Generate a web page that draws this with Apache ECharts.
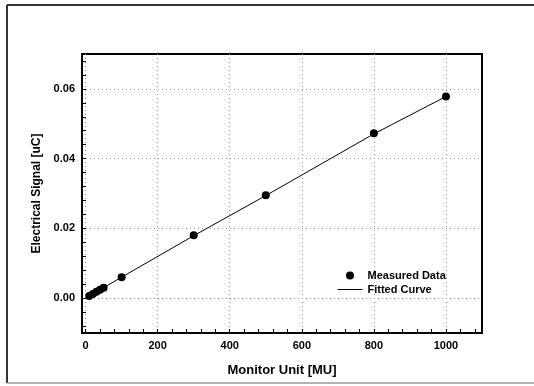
<!DOCTYPE html>
<html>
<head>
<meta charset="utf-8">
<script src="https://cdn.jsdelivr.net/npm/echarts@6/dist/echarts.min.js"></script>
<style>
    html, body { margin: 0; padding: 0; background: #fff; }
    #chart { width: 534px; height: 386px; }
</style>
</head>
<body>
<div id="chart"></div>
<script>
// measured points
const measuredX = [10, 20, 30, 40, 50, 100, 300, 500, 800, 1000];
const measuredY = [0.0006, 0.0012, 0.0018, 0.0024, 0.0030, 0.0060, 0.0180, 0.0295, 0.0473, 0.0578];

// fitted curve, same reading
const fittedX = [10, 100, 300, 500, 800, 1000];
const fittedY = [0.0006, 0.0060, 0.0179, 0.0294, 0.0471, 0.0578];

// axis labels
const xTickLabels = [0, 200, 400, 600, 800, 1000];
const yTickLabels = [0, 0.02, 0.04, 0.06];

document.addEventListener('DOMContentLoaded', function() {
    initChart();
});

function initChart() {
    const el = document.getElementById('chart');
    echarts.dispose(el);
    const chart = echarts.init(el);

    const font = 'Liberation Sans, Arial, sans-serif';

    // small inside ticks: every 40 MU and every 0.004 uC
    const xTicks = [];
    for (let i = 0; i <= 27; i++) xTicks.push(i * 40);
    const yTicks = [];
    for (let i = -2; i <= 17; i++) yTicks.push(Math.round(i * 4) / 1000);

    const gridLine = {
        show: true,
        showMinLine: false,
        showMaxLine: false,
        lineStyle: { color: '#999', type: [1, 3], width: 1 }
    };

    const option = {
        animation: false,
        backgroundColor: '#fff',
        grid: {
            left: 82,
            right: 52,
            top: 54,
            bottom: 53,
            show: true,
            borderColor: '#000',
            borderWidth: 2
        },
        graphic: [
            // outer frame (right edge runs off the picture)
            { type: 'line', shape: { x1: 7, y1: 5, x2: 534, y2: 5 }, style: { stroke: '#333', lineWidth: 2 } },
            { type: 'line', shape: { x1: 7, y1: 5, x2: 7, y2: 383 }, style: { stroke: '#333', lineWidth: 2 } },
            { type: 'line', shape: { x1: 7, y1: 383, x2: 534, y2: 383 }, style: { stroke: '#999', lineWidth: 1.5 } }
        ],
        legend: {
            orient: 'vertical',
            left: 332,
            top: 265,
            itemWidth: 25,
            itemHeight: 8,
            itemGap: 3,
            textStyle: { fontFamily: font, fontSize: 11, fontWeight: 'bold', color: '#000' },
            data: [
                { name: 'Measured Data', icon: 'circle', itemStyle: { color: '#000', opacity: 1 } },
                { name: 'Fitted Curve', icon: 'line', itemStyle: { color: '#000', borderColor: '#000', borderWidth: 1 } }
            ]
        },
        xAxis: [
            {
                // only carries the dotted grid
                type: 'value',
                position: 'top',
                min: -10,
                max: 1100,
                axisLine: { show: false },
                axisTick: { show: false },
                axisLabel: { show: false },
                splitLine: gridLine
            },
            {
                type: 'value',
                position: 'bottom',
                min: -10,
                max: 1100,
                name: 'Monitor Unit [MU]',
                nameLocation: 'middle',
                nameGap: 31,
                nameTextStyle: { fontFamily: font, fontSize: 13, fontWeight: 'bold', color: '#000' },
                axisLine: { show: true, onZero: false, lineStyle: { color: '#000', width: 2 } },
                axisTick: { show: true, inside: true, length: 4, customValues: xTicks, lineStyle: { color: '#000' } },
                axisLabel: {
                    customValues: xTickLabels,
                    margin: 7,
                    fontFamily: font,
                    fontSize: 11,
                    fontWeight: 'bold',
                    color: '#000',
                    formatter: function(v) { return String(v); }
                },
                splitLine: { show: false }
            }
        ],
        yAxis: [
            {
                type: 'value',
                position: 'right',
                min: -0.01,
                max: 0.07,
                axisLine: { show: false },
                axisTick: { show: false },
                axisLabel: { show: false },
                splitLine: gridLine
            },
            {
                type: 'value',
                position: 'left',
                min: -0.01,
                max: 0.07,
                name: 'Electrical Signal [uC]',
                nameLocation: 'middle',
                nameGap: 38,
                nameTextStyle: { fontFamily: font, fontSize: 12, fontWeight: 'bold', color: '#000' },
                axisLine: { show: true, onZero: false, lineStyle: { color: '#000', width: 2 } },
                axisTick: { show: true, inside: true, length: 4, customValues: yTicks, lineStyle: { color: '#000' } },
                axisLabel: {
                    customValues: yTickLabels,
                    margin: 7,
                    fontFamily: font,
                    fontSize: 11,
                    fontWeight: 'bold',
                    color: '#000',
                    formatter: function(v) { return v.toFixed(2); }
                },
                splitLine: { show: false }
            }
        ],
        series: [
            {
                name: 'Measured Data',
                type: 'scatter',
                xAxisIndex: 1,
                yAxisIndex: 1,
                symbol: 'circle',
                symbolSize: 8,
                itemStyle: { color: '#000', opacity: 1 },
                data: measuredX.map((x, i) => [x, measuredY[i]]),
                z: 3
            },
            {
                name: 'Fitted Curve',
                type: 'line',
                xAxisIndex: 1,
                yAxisIndex: 1,
                symbol: 'none',
                lineStyle: { color: '#000', width: 1 },
                itemStyle: { color: '#000' },
                data: fittedX.map((x, i) => [x, fittedY[i]]),
                z: 2
            }
        ]
    };

    chart.setOption(option);
}
</script>
</body>
</html>
